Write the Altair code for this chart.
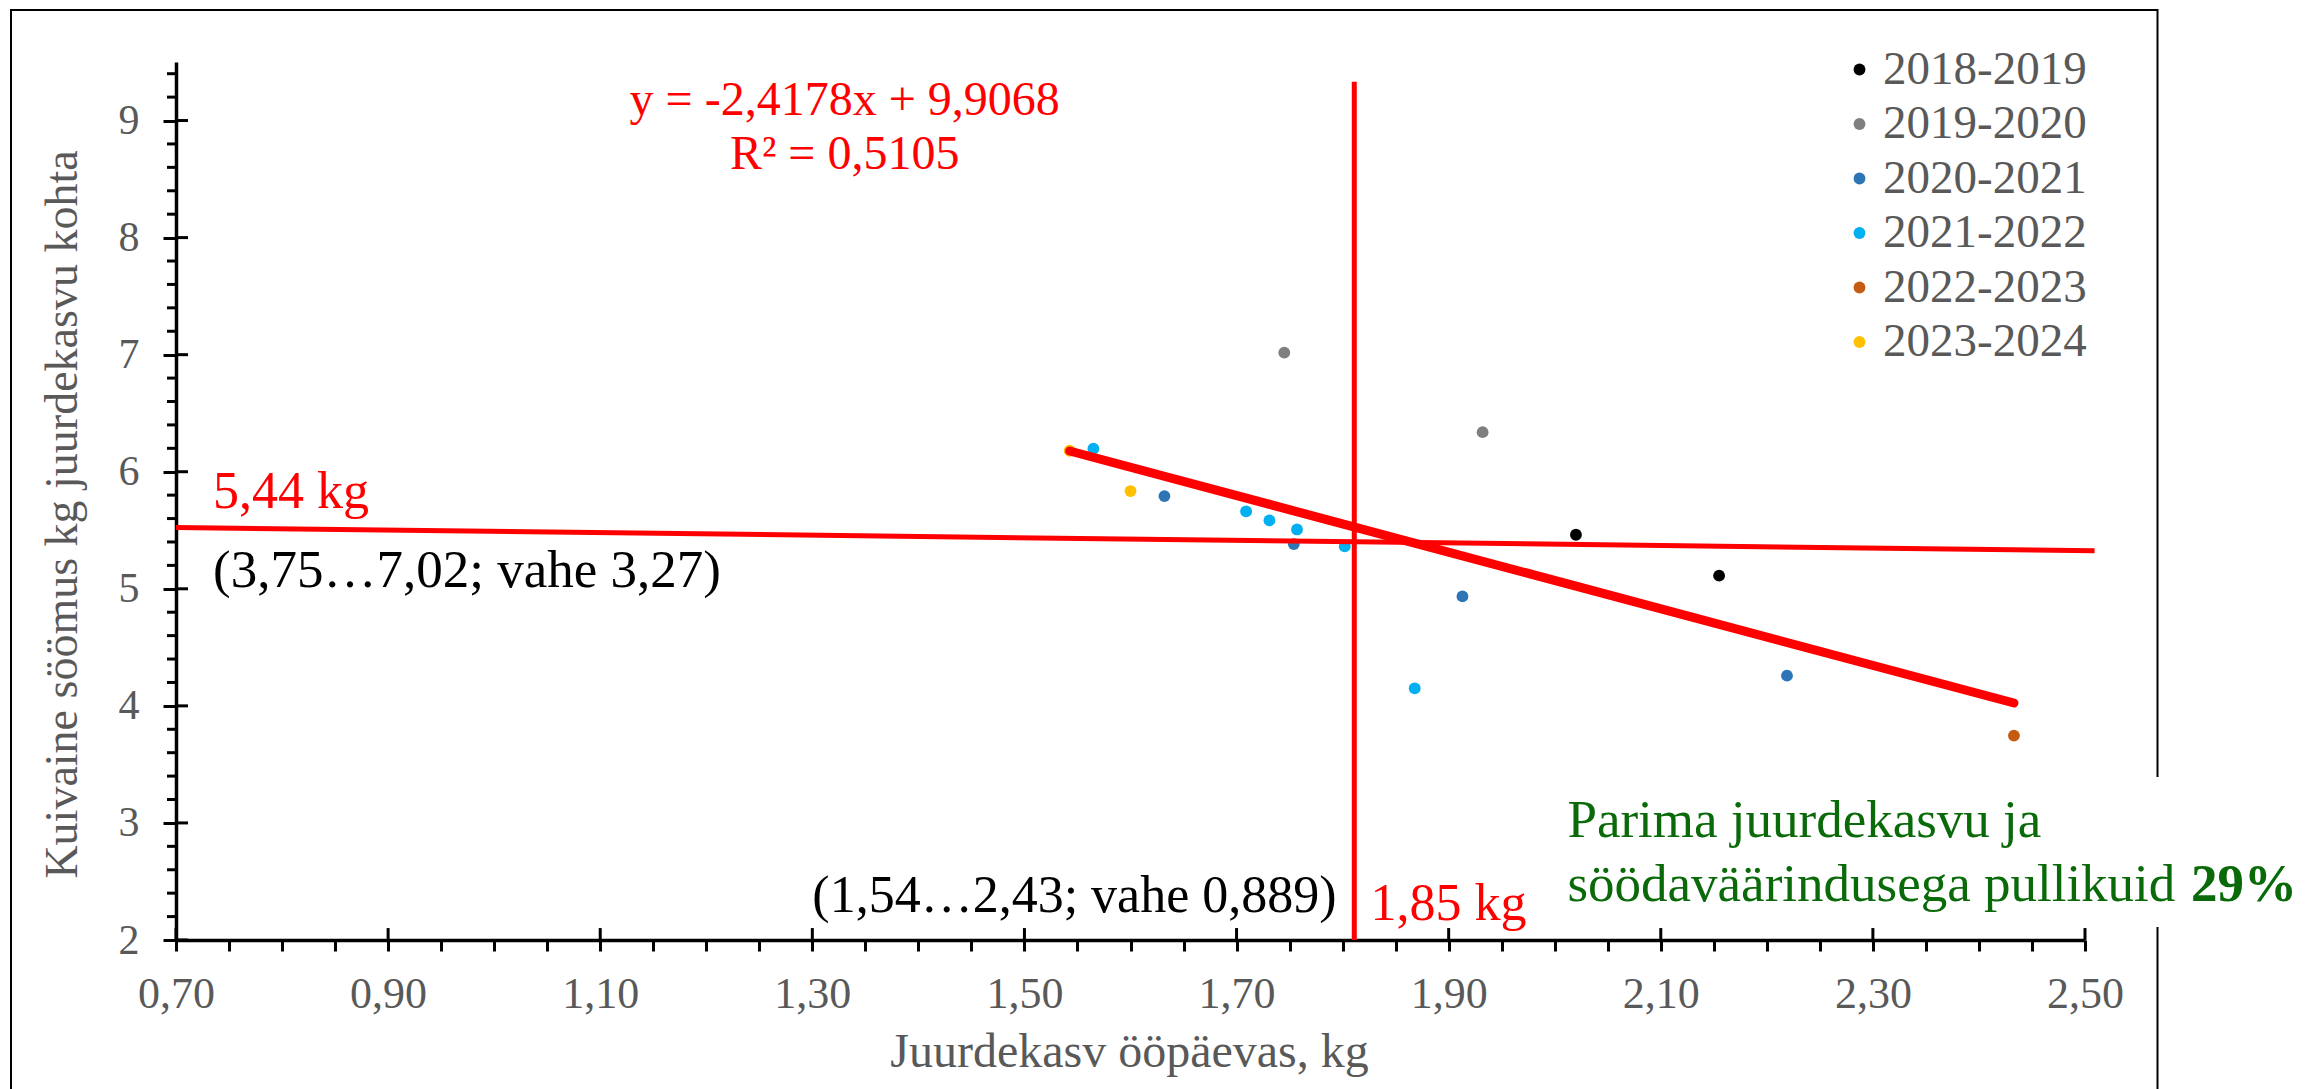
import altair as alt
import pandas as pd

# ---------------- data ----------------
seasons = ["2018-2019", "2019-2020", "2020-2021", "2021-2022", "2022-2023", "2023-2024"]
season_colors = ["#000000", "#7F7F7F", "#2E75B6", "#00B0F0", "#C55A11", "#FFC000"]

pt_season = ["2018-2019", "2018-2019",
             "2019-2020", "2019-2020",
             "2020-2021", "2020-2021", "2020-2021", "2020-2021",
             "2021-2022", "2021-2022", "2021-2022", "2021-2022", "2021-2022", "2021-2022",
             "2022-2023",
             "2023-2024", "2023-2024"]
pt_x = [2.020, 2.155,
        1.745, 1.932,
        1.632, 1.754, 1.913, 2.219,
        1.565, 1.709, 1.731, 1.757, 1.802, 1.868,
        2.433,
        1.5426, 1.600]
pt_y = [5.462, 5.112,
        7.017, 6.338,
        5.792, 5.382, 4.935, 4.258,
        6.196, 5.661, 5.584, 5.507, 5.362, 4.150,
        3.746,
        6.179, 5.835]

# regression y = a*x + b
reg_a = -2.4178
reg_b = 9.9068

# drawn mean line (slightly tilted in the original) and the vertical line
mean_x = [0.70, 2.509]
mean_y = [5.524, 5.325]
vert_x = 1.811
vert_y = [2.0, 9.331]

# axis tick values
x_major = [0.70, 0.90, 1.10, 1.30, 1.50, 1.70, 1.90, 2.10, 2.30, 2.50]
x_minor = [round(0.70 + 0.05 * i, 2) for i in range(37)]
y_major = [2, 3, 4, 5, 6, 7, 8, 9]
y_minor = [round(2.2 + 0.2 * i, 1) for i in range(37) if (i + 1) % 5 != 0]

# annotations
red_left_text = ["5,44 kg", "1,85 kg"]
red_left_x = [0.735, 1.8263]
red_left_y = [5.692, 2.175]

black_left_text = ["(3,75…7,02; vahe 3,27)"]
black_left_x = [0.735]
black_left_y = [5.018]

black_right_text = ["(1,54…2,43; vahe 0,889)"]
black_right_x = [1.7943]
black_right_y = [2.243]

eq_text = ["y = -2,4178x + 9,9068", "R² = 0,5105"]
eq_x = [1.3305, 1.3305]
eq_y = [9.047, 8.586]

green_text = ["Parima juurdekasvu ja", "söödaväärindusega pullikuid"]
green_x = [2.012, 2.012]
green_y = [2.884, 2.329]
green_bold_text = ["29%"]
green_bold_x = [2.600]
green_bold_y = [2.329]

FONT = "Liberation Serif"
GRAY = "#595959"
RED = "#FF0000"
GREEN = "#0A6A0A"

W, H = 1909, 878
PAD_L, PAD_T = 176, 62

XLAB, YLAB = 44, 42

xscale = alt.Scale(domain=[0.70, 2.50], nice=False, zero=False)
yscale = alt.Scale(domain=[2.0, 9.5], nice=False, zero=False)

x_major_int = ",".join(str(int(round(v * 100))) for v in x_major)

x_axis = alt.Axis(
    values=x_minor,
    labelExpr=f"indexof([{x_major_int}], round(datum.value*100)) >= 0 ? replace(format(datum.value, '.2f'), '.', ',') : ''",
    grid=False, tickSize=11, tickWidth=3, tickColor="black",
    domainColor="black", domainWidth=3.5,
    labelFont=FONT, labelFontSize=XLAB, labelColor=GRAY,
    labelPadding=56, labelBaseline="alphabetic", labelFlush=False, labelOverlap=False,
    title="Juurdekasv ööpäevas, kg", titleFont=FONT, titleFontSize=48,
    titleFontWeight="normal", titleColor=GRAY,
    titleX=953, titleY=126, titleBaseline="alphabetic", titleAlign="center",
)
y_axis = alt.Axis(
    values=y_major,
    format="d",
    grid=False, tickSize=13, tickWidth=3, tickColor="black",
    domainColor="black", domainWidth=3.5,
    labelFont=FONT, labelFontSize=YLAB, labelColor=GRAY,
    labelPadding=24, labelBaseline="middle", labelFlush=False, labelOverlap=False,
    title="Kuivaine söömus kg juurdekasvu kohta", titleFont=FONT, titleFontSize=46,
    titleFontWeight="normal", titleColor=GRAY,
    titleAngle=270, titleX=-100, titleY=452, titleBaseline="alphabetic", titleAlign="center",
)


def X(field="x:Q"):
    return alt.X(field, scale=xscale, axis=x_axis)


def Y(field="y:Q"):
    return alt.Y(field, scale=yscale, axis=y_axis)


one = alt.Data(values=[{"k": 1}])

frame = alt.Chart(one).mark_rect(filled=False, stroke="black", strokeWidth=2).encode(
    x=alt.value(11 - PAD_L), x2=alt.value(2157.5 - PAD_L),
    y=alt.value(10 - PAD_T), y2=alt.value(1100 - PAD_T))

whitebox = alt.Chart(one).mark_rect(color="white").encode(
    x=alt.value(1560 - PAD_L), x2=alt.value(2300 - PAD_L),
    y=alt.value(777 - PAD_T), y2=alt.value(927 - PAD_T))

pts_df = pd.DataFrame({"x": pt_x, "y": pt_y, "season": pt_season})
points = alt.Chart(pts_df).mark_circle(size=140, opacity=1).encode(
    x=X(), y=Y(),
    color=alt.Color("season:N", title=None,
                    scale=alt.Scale(domain=seasons, range=season_colors),
                    legend=alt.Legend(orient="none", legendX=1660, legendY=-16,
                                      labelFont=FONT, labelFontSize=47, labelColor=GRAY,
                                      labelLimit=0,
                                      symbolType="circle", symbolSize=140, symbolStrokeWidth=0,
                                      symbolOpacity=1, rowPadding=6.5, labelOffset=0, padding=0)),
)

# upper half of the major x ticks (ticks cross the axis line)
xt_df = pd.DataFrame({"x": x_major, "y": [2.0] * len(x_major), "y2": [2.102] * len(x_major)})
xticks_up = alt.Chart(xt_df).mark_rule(color="black", strokeWidth=3).encode(
    x=X(), y=Y(), y2="y2:Q")

# inner half of the major y ticks
yt_df = pd.DataFrame({"y": y_major, "x": [0.70] * len(y_major), "x2": [0.7113] * len(y_major)})
yticks_in = alt.Chart(yt_df).mark_rule(color="black", strokeWidth=3).encode(
    x=X(), x2="x2:Q", y=Y())

# minor y ticks (outside, shorter)
ym_df = pd.DataFrame({"y": y_minor, "x": [0.6915] * len(y_minor), "x2": [0.70] * len(y_minor)})
yticks_minor = alt.Chart(ym_df).mark_rule(color="black", strokeWidth=3).encode(
    x=X(), x2="x2:Q", y=Y())

mean_df = pd.DataFrame({"x": [mean_x[0]], "x2": [mean_x[1]], "y": [mean_y[0]], "y2": [mean_y[1]]})
mean_line = alt.Chart(mean_df).mark_rule(color=RED, strokeWidth=5).encode(
    x=X(), x2="x2:Q", y=Y(), y2="y2:Q")

vert_df = pd.DataFrame({"x": [vert_x], "y": [vert_y[0]], "y2": [vert_y[1]]})
vert_line = alt.Chart(vert_df).mark_rule(color=RED, strokeWidth=5).encode(
    x=X(), y=Y(), y2="y2:Q")

rx0, rx1 = min(pt_x), max(pt_x)
reg_df = pd.DataFrame({"x": [rx0], "x2": [rx1],
                       "y": [reg_a * rx0 + reg_b], "y2": [reg_a * rx1 + reg_b]})
reg_line = alt.Chart(reg_df).mark_rule(color=RED, strokeWidth=9, strokeCap="round").encode(
    x=X(), x2="x2:Q", y=Y(), y2="y2:Q")


def text_layer(texts, xs, ys, color, size, align="left", weight="normal"):
    df = pd.DataFrame({"x": xs, "y": ys, "t": texts})
    return alt.Chart(df).mark_text(align=align, baseline="alphabetic", font=FONT,
                                   fontSize=size, color=color, fontWeight=weight).encode(
        x=X(), y=Y(), text="t:N")


t_red = text_layer(red_left_text, red_left_x, red_left_y, RED, 52)
t_black_l = text_layer(black_left_text, black_left_x, black_left_y, "black", 53)
t_black_r = text_layer(black_right_text, black_right_x, black_right_y, "black", 52, align="right")
t_eq = text_layer(eq_text, eq_x, eq_y, RED, 48, align="center")
t_green = text_layer(green_text, green_x, green_y, GREEN, 53)
t_green_b = text_layer(green_bold_text, green_bold_x, green_bold_y, GREEN, 53, weight="bold")

chart = alt.layer(
    points, frame, whitebox, xticks_up, yticks_in, yticks_minor,
    mean_line, vert_line, reg_line,
    t_red, t_black_l, t_black_r, t_eq, t_green, t_green_b,
).properties(
    width=W, height=H,
    autosize=alt.AutoSizeParams(type="none"),
    padding={"left": PAD_L, "top": PAD_T, "right": 2305 - PAD_L - W, "bottom": 1089 - PAD_T - H},
    background="white",
).configure_view(strokeWidth=0).configure_axis(
    labelOverlap=False, labelFlush=False, labelFont=FONT, labelColor=GRAY, grid=False,
).configure_axisX(labelFontSize=XLAB).configure_axisY(labelFontSize=YLAB)

chart.save("out.html", embed_options={"renderer": "svg", "actions": False})
